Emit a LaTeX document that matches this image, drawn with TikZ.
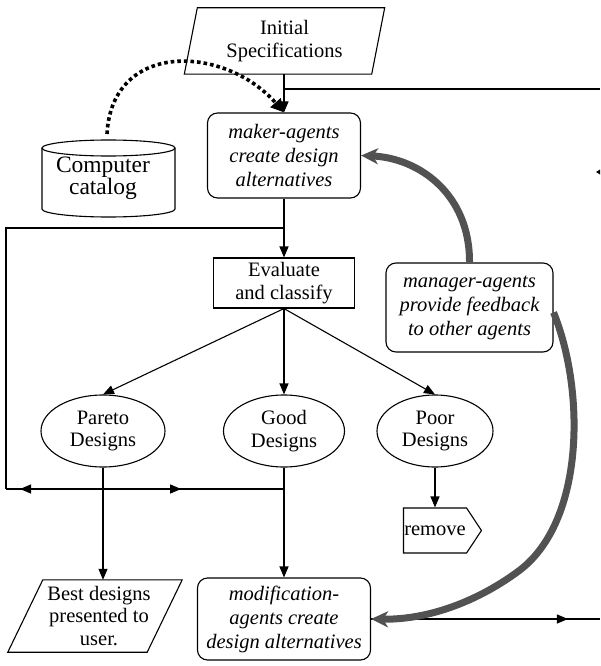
\documentclass[tikz,border=0pt]{standalone}
\usepackage{fontspec}
\setmainfont{Liberation Serif}
\usetikzlibrary{arrows.meta,shapes.geometric,shapes.symbols,decorations.markings}
\tikzset{
  base/.style={line width=1.1pt},
  arr/.style={line width=1.1pt, -{Triangle[length=11pt,width=9pt]}},
  rtext/.style={font=\fontsize{20.5}{22.5}\selectfont, align=center},
  itext/.style={font=\fontsize{20.5}{24}\selectfont\itshape, align=center},
  rbox/.style={draw, line width=1.1pt, rounded corners=10pt, inner sep=0pt},
  ell/.style={ellipse, draw, line width=1.1pt, minimum height=72pt, inner sep=0pt, rtext},
  midarrow/.style={postaction={decorate}, decoration={markings,
      mark=at position #1 with {\arrow{Triangle[length=11pt,width=9pt]}}}},
  loopmarks/.style={postaction={decorate}, decoration={markings,
      mark=at position 0.09 with {\arrow{Triangle[reversed,length=11pt,width=9pt]}},
      mark=at position 0.63 with {\arrow{Triangle[length=11pt,width=9pt]}}}},
  dotarr/.style={line width=3.6pt, dash pattern=on 3.6pt off 3.0pt,
      -{Triangle[length=13pt,width=13pt]}},
  grayarr/.style={line width=7pt, draw=black!68,
      -{Stealth[length=17pt,width=16pt,inset=5pt]}}
}
\begin{document}
\begin{tikzpicture}[x=1pt,y=-1pt]
\useasboundingbox (0,0) rectangle (600,666);

% Initial specifications (parallelogram)
\node[rtext, minimum width=187pt, minimum height=66pt, inner sep=0pt] (init) at (284.5,41) {Initial\\Specifications};
\draw[base] ([xshift=6.5pt]init.north west) -- ([xshift=6.5pt]init.north east)
  -- ([xshift=-6.5pt]init.south east) -- ([xshift=-6.5pt]init.south west) -- cycle;

% maker agents
\node[rbox, itext, minimum width=153pt, minimum height=85pt] (maker) at (284,155.5) {maker-agents\\create design\\alternatives};

% computer catalog (cylinder)
\node[font=\fontsize{23.5}{21}\selectfont, align=center] (cat) at (103,178) {Computer\\catalog};
\draw[base] (42,148) -- (42,209) arc[start angle=180, end angle=0, x radius=66.5, y radius=8] -- (175,148);
\draw[base] (108.5,148) ellipse [x radius=66.5, y radius=8];
\coordinate (cattop) at (107,134);

% evaluate
\node[draw, base, rtext, minimum width=141pt, minimum height=50pt, inner sep=0pt] (eval) at (284,283) {Evaluate\\and classify};

% manager agents
\node[rbox, itext, minimum width=167pt, minimum height=89pt] (mgr) at (469.5,307.5) {manager-agents\\provide feedback\\to other agents};

% design classes
\node[ell, minimum width=124pt] (pareto) at (103,431) {Pareto\\Designs};
\node[ell, minimum width=121pt] (good) at (284,431) {Good\\Designs};
\node[ell, minimum width=116pt] (poor) at (435,431) {Poor\\Designs};

% remove
\node[signal, signal to=east, signal pointer angle=113, draw, base, rtext,
      minimum width=78pt, minimum height=45pt, inner sep=0pt] (remove) at (435,530.5) {remove};

% best designs (parallelogram)
\node[rtext, minimum width=139pt, minimum height=72pt, inner sep=0pt] (best) at (99,616) {Best designs\\presented to\\user.};
\draw[base] ([xshift=13.5pt]best.north west) -- ([xshift=13.5pt]best.north east)
  -- ([xshift=-21.5pt]best.south east) -- ([xshift=-21.5pt]best.south west) -- cycle;

% modification agents
\node[rbox, itext, minimum width=173pt, minimum height=82pt] (mod) at (284,619) {modification-\\agents create\\design alternatives};

% junction coordinates
\coordinate (j0) at (284,89);
\coordinate (rt0) at (600,89);
\coordinate (j1) at (284,228);
\coordinate (lt) at (6,228);
\coordinate (lb) at (6,489);
\coordinate (j2) at (284,489);
\coordinate (rt1) at (600,619);

% connectors
\draw[arr] (init.south -| maker.north) -- (maker.north);
\draw[base] (j0) -- (rt0);
\draw[arr] (maker.south) -- (eval.north);
\draw[base] (j1) -- (lt) -- (lb);
\draw[base, loopmarks] (lb) -- (j2);
\draw[arr] (eval.south) -- (pareto.north);
\draw[arr] (eval.south) -- (good.north);
\draw[arr] (eval.south) -- (poor.north);
\draw[arr] (pareto.south) -- (pareto.south |- best.north);
\draw[arr] (good.south) -- (mod.north);
\draw[arr] (poor.south) -- (poor.south |- remove.north);
\draw[base, midarrow=0.86] (mod.east) -- (rt1);

% dotted catalog arrow
\draw[dotarr] (cattop) .. controls (112,40) and (225,45) .. (maker.north);

% gray feedback arrows
\draw[grayarr] (mgr.north) .. controls (470,195) and (420,158) .. (maker.east);
\draw[grayarr] ([yshift=-5pt]mgr.east) .. controls (585,390) and (585,520) .. (520,570)
   .. controls (480,600) and (430,620) .. (mod.east);

% fragment of an arrowhead at the right edge
\fill (596,172) -- (600,169.5) -- (600,174.5) -- cycle;
\end{tikzpicture}
\end{document}
